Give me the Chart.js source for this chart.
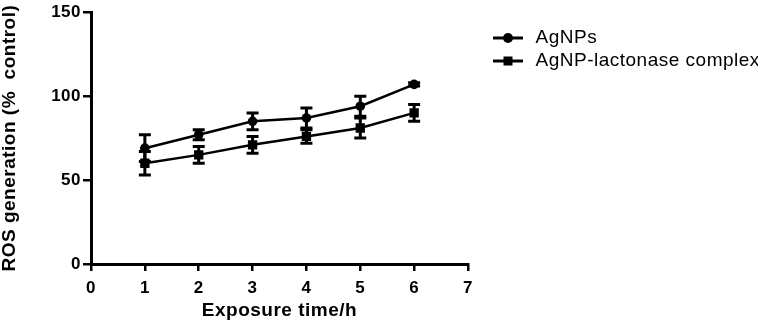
<!DOCTYPE html>
<html>
<head>
<meta charset="utf-8">
<script src="https://cdn.jsdelivr.net/npm/chart.js@4/dist/chart.umd.min.js"></script>
<style>
  html, body { margin: 0; padding: 0; background: #fff; }
  #wrap { width: 765px; height: 325px; position: relative; }
</style>
</head>
<body>
<div id="wrap"><canvas id="c"></canvas></div>
<script>
// ---- data ----
const timeH = [1, 2, 3, 4, 5, 6];
const agnpsMean = [69, 77, 85, 87, 94, 107];
const agnpsErr = [8, 3, 5, 6, 6, 1];
const complexMean = [60, 65, 71, 76, 81, 90];
const complexErr = [7, 5, 5, 4, 6, 5];
const seriesNames = ['AgNPs', 'AgNP-lactonase complex'];
const xTickValues = [0, 1, 2, 3, 4, 5, 6, 7];
const yTickValues = [0, 50, 100, 150];
const xTitle = 'Exposure time/h';
const yTitle = 'ROS generation (%  control)';

const FONT = '"Liberation Sans", Arial, Helvetica, sans-serif';

function makeSymbol(shape) {
  const c = document.createElement('canvas');
  c.width = 54; c.height = 14;
  const g = c.getContext('2d');
  g.strokeStyle = '#000'; g.fillStyle = '#000'; g.lineWidth = 3;
  g.beginPath(); g.moveTo(21, 7); g.lineTo(51, 7); g.stroke();
  if (shape === 'circle') {
    g.beginPath(); g.arc(36, 7, 5, 0, Math.PI * 2); g.fill();
  } else {
    g.fillRect(31.5, 2.5, 9, 9);
  }
  return c;
}
const legendSymbols = [makeSymbol('circle'), makeSymbol('rect')];

const spacingPlugin = {
  id: 'spacing',
  beforeLayout(chart) { chart.ctx.letterSpacing = '0.5px'; },
  beforeDraw(chart) { chart.ctx.letterSpacing = '0.5px'; }
};

const errorBars = {
  id: 'errorBars',
  beforeDatasetsDraw(chart) {
    const { ctx, scales: { x, y } } = chart;
    const groups = [[agnpsMean, agnpsErr], [complexMean, complexErr]];
    ctx.save();
    ctx.strokeStyle = '#000';
    groups.forEach(([m, e]) => {
      timeH.forEach((t, i) => {
        const px = x.getPixelForValue(t);
        const top = y.getPixelForValue(m[i] + e[i]);
        const bot = y.getPixelForValue(m[i] - e[i]);
        ctx.lineWidth = 3;
        ctx.beginPath(); ctx.moveTo(px, top); ctx.lineTo(px, bot); ctx.stroke();
        ctx.lineWidth = 3;
        ctx.beginPath();
        ctx.moveTo(px - 6, top); ctx.lineTo(px + 6, top);
        ctx.moveTo(px - 6, bot); ctx.lineTo(px + 6, bot);
        ctx.stroke();
      });
    });
    ctx.restore();
  }
};

const toPts = (m) => timeH.map((t, i) => ({ x: t, y: m[i] }));

new Chart(document.getElementById('c'), {
  type: 'line',
  data: {
    datasets: [
      {
        label: seriesNames[0], data: toPts(agnpsMean),
        borderColor: '#000', backgroundColor: '#000', borderWidth: 2.5,
        pointStyle: 'circle', pointRadius: 4.8, pointBackgroundColor: '#000', pointBorderWidth: 0
      },
      {
        label: seriesNames[1], data: toPts(complexMean),
        borderColor: '#000', backgroundColor: '#000', borderWidth: 2.5,
        pointStyle: 'rect', pointRadius: 6.6, pointBackgroundColor: '#000', pointBorderWidth: 0
      }
    ]
  },
  options: {
    responsive: true,
    maintainAspectRatio: false,
    animation: false,
    layout: { padding: { top: 12, right: 7, bottom: 0, left: 0 } },
    plugins: {
      tooltip: { enabled: false },
      legend: {
        position: 'right',
        align: 'start',
        maxWidth: 290,
        title: { display: true, text: '', font: { size: 10, lineHeight: 1.25 }, padding: 0 },
        labels: {
          usePointStyle: true,
          pointStyleWidth: 54,
          padding: 4,
          color: '#000',
          font: { family: FONT, size: 19, weight: 'normal' },
          generateLabels: (chart) => chart.data.datasets.map((ds, i) => ({
            text: ds.label, pointStyle: legendSymbols[i], datasetIndex: i,
            fillStyle: '#000', strokeStyle: '#000', lineWidth: 0, hidden: false, fontColor: '#000'
          }))
        }
      }
    },
    scales: {
      x: {
        type: 'linear', min: 0, max: 7,
        afterBuildTicks: (s) => { s.ticks = xTickValues.map(v => ({ value: v })); },
        afterFit: (s) => { s.height = 61; },
        grid: { drawOnChartArea: false, drawTicks: true, tickLength: 7, color: '#000', lineWidth: 2.5 },
        border: { display: true, color: '#000', width: 3 },
        ticks: { color: '#000', padding: 7, font: { family: FONT, size: 17, weight: 'bold' }, maxRotation: 0 },
        title: { display: true, text: xTitle, color: '#000', font: { family: FONT, size: 19, weight: 'bold', lineHeight: 1 }, padding: { top: 0, bottom: 5 } }
      },
      y: {
        type: 'linear', min: 0, max: 150,
        afterBuildTicks: (s) => { s.ticks = yTickValues.map(v => ({ value: v })); },
        afterFit: (s) => { s.width = 91; },
        grid: { drawOnChartArea: false, drawTicks: true, tickLength: 8, color: '#000', lineWidth: 2.5 },
        border: { display: true, color: '#000', width: 3 },
        ticks: { color: '#000', padding: 2, font: { family: FONT, size: 17, weight: 'bold' } },
        title: { display: true, text: yTitle, color: '#000', font: { family: FONT, size: 19, weight: 'bold', lineHeight: 1 }, padding: { top: 0, bottom: 0 } }
      }
    }
  },
  plugins: [spacingPlugin, errorBars]
});
</script>
</body>
</html>
